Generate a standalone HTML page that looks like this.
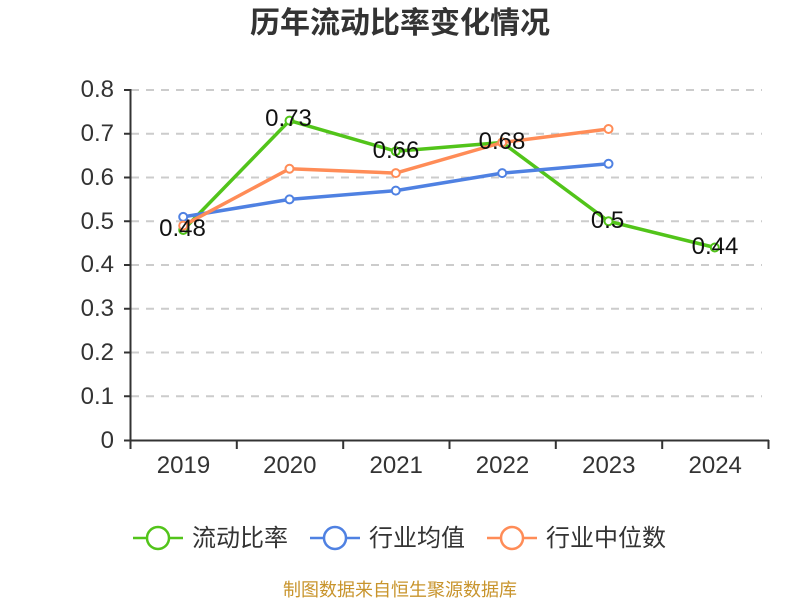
<!DOCTYPE html>
<html><head><meta charset="utf-8"><style>
html,body{margin:0;padding:0;background:#fff;}
svg{display:block;}
text{font-family:"Liberation Sans","Noto Sans CJK SC",sans-serif;}
</style></head><body>
<svg width="800" height="600" viewBox="0 0 800 600" xmlns="http://www.w3.org/2000/svg">
<rect width="800" height="600" fill="#fff"/>
<text x="400" y="33" text-anchor="middle" font-size="30" font-weight="bold" fill="#333">历年流动比率变化情况</text>
<g stroke="#ccc" stroke-width="2" stroke-dasharray="8 7">
<line x1="131" y1="90" x2="762" y2="90"/>
<line x1="131" y1="133.75" x2="762" y2="133.75"/>
<line x1="131" y1="177.5" x2="762" y2="177.5"/>
<line x1="131" y1="221.25" x2="762" y2="221.25"/>
<line x1="131" y1="265" x2="762" y2="265"/>
<line x1="131" y1="308.75" x2="762" y2="308.75"/>
<line x1="131" y1="352.5" x2="762" y2="352.5"/>
<line x1="131" y1="396.25" x2="762" y2="396.25"/>
</g>
<g stroke="#333" stroke-width="2">
<line x1="130.5" y1="89" x2="130.5" y2="441"/>
<line x1="124" y1="90" x2="130" y2="90"/>
<line x1="124" y1="133.75" x2="130" y2="133.75"/>
<line x1="124" y1="177.5" x2="130" y2="177.5"/>
<line x1="124" y1="221.25" x2="130" y2="221.25"/>
<line x1="124" y1="265" x2="130" y2="265"/>
<line x1="124" y1="308.75" x2="130" y2="308.75"/>
<line x1="124" y1="352.5" x2="130" y2="352.5"/>
<line x1="124" y1="396.25" x2="130" y2="396.25"/>
<line x1="124" y1="440.5" x2="130" y2="440.5"/>
<line x1="130" y1="440.5" x2="769" y2="440.5"/>
<line x1="130.5" y1="440" x2="130.5" y2="449"/>
<line x1="236.8" y1="440" x2="236.8" y2="449"/>
<line x1="343.2" y1="440" x2="343.2" y2="449"/>
<line x1="449.5" y1="440" x2="449.5" y2="449"/>
<line x1="555.8" y1="440" x2="555.8" y2="449"/>
<line x1="662.2" y1="440" x2="662.2" y2="449"/>
<line x1="768.5" y1="440" x2="768.5" y2="449"/>
</g>
<g font-size="24" fill="#333" text-anchor="end">
<text x="114" y="97">0.8</text>
<text x="114" y="141">0.7</text>
<text x="114" y="185">0.6</text>
<text x="114" y="229">0.5</text>
<text x="114" y="272">0.4</text>
<text x="114" y="316">0.3</text>
<text x="114" y="360">0.2</text>
<text x="114" y="404">0.1</text>
<text x="114" y="448">0</text>
</g>
<g font-size="24" fill="#333" text-anchor="middle">
<text x="183.5" y="473">2019</text>
<text x="289.8" y="473">2020</text>
<text x="396.2" y="473">2021</text>
<text x="502.5" y="473">2022</text>
<text x="608.8" y="473">2023</text>
<text x="715.2" y="473">2024</text>
</g>
<polyline fill="none" stroke="#52c41a" stroke-width="3.5" stroke-linejoin="round" points="183.2,230 289.5,120.6 395.8,151.25 502.2,142.5 608.5,221.25 714.8,247.5"/>
<g fill="#fff" stroke="#52c41a" stroke-width="2">
<circle cx="183.2" cy="230" r="4"/><circle cx="289.5" cy="120.6" r="4"/><circle cx="395.8" cy="151.25" r="4"/><circle cx="502.2" cy="142.5" r="4"/><circle cx="608.5" cy="221.25" r="4"/><circle cx="714.8" cy="247.5" r="4"/>
</g>
<polyline fill="none" stroke="#4f81e2" stroke-width="3.5" stroke-linejoin="round" points="183.2,216.9 289.5,199.4 395.8,190.6 502.2,173.1 608.5,163.8"/>
<g fill="#fff" stroke="#4f81e2" stroke-width="2">
<circle cx="183.2" cy="216.9" r="4"/><circle cx="289.5" cy="199.4" r="4"/><circle cx="395.8" cy="190.6" r="4"/><circle cx="502.2" cy="173.1" r="4"/><circle cx="608.5" cy="163.8" r="4"/>
</g>
<polyline fill="none" stroke="#ff8c57" stroke-width="3.5" stroke-linejoin="round" points="183.2,225.6 289.5,168.75 395.8,173.1 502.2,142.5 608.5,129"/>
<g fill="#fff" stroke="#ff8c57" stroke-width="2">
<circle cx="183.2" cy="225.6" r="4"/><circle cx="289.5" cy="168.75" r="4"/><circle cx="395.8" cy="173.1" r="4"/><circle cx="502.2" cy="142.5" r="4"/><circle cx="608.5" cy="129" r="4"/>
</g>
<g font-size="24" fill="#111" text-anchor="middle">
<text x="182.5" y="236">0.48</text>
<text x="288.5" y="126">0.73</text>
<text x="396" y="158">0.66</text>
<text x="502" y="149">0.68</text>
<text x="607.5" y="228">0.5</text>
<text x="715" y="254">0.44</text>
</g>
<g stroke-width="2.5" fill="#fff">
<line x1="133" y1="538" x2="183" y2="538" stroke="#52c41a"/>
<circle cx="158" cy="538" r="11" stroke="#52c41a"/>
<line x1="310" y1="538" x2="360" y2="538" stroke="#4f81e2"/>
<circle cx="335" cy="538" r="11" stroke="#4f81e2"/>
<line x1="487" y1="538" x2="537" y2="538" stroke="#ff8c57"/>
<circle cx="512" cy="538" r="11" stroke="#ff8c57"/>
</g>
<g font-size="24" fill="#333">
<text x="192" y="546">流动比率</text>
<text x="369" y="546">行业均值</text>
<text x="546" y="546">行业中位数</text>
</g>
<text x="400" y="596" text-anchor="middle" font-size="18" fill="#c8942c">制图数据来自恒生聚源数据库</text>
</svg>
</body></html>
